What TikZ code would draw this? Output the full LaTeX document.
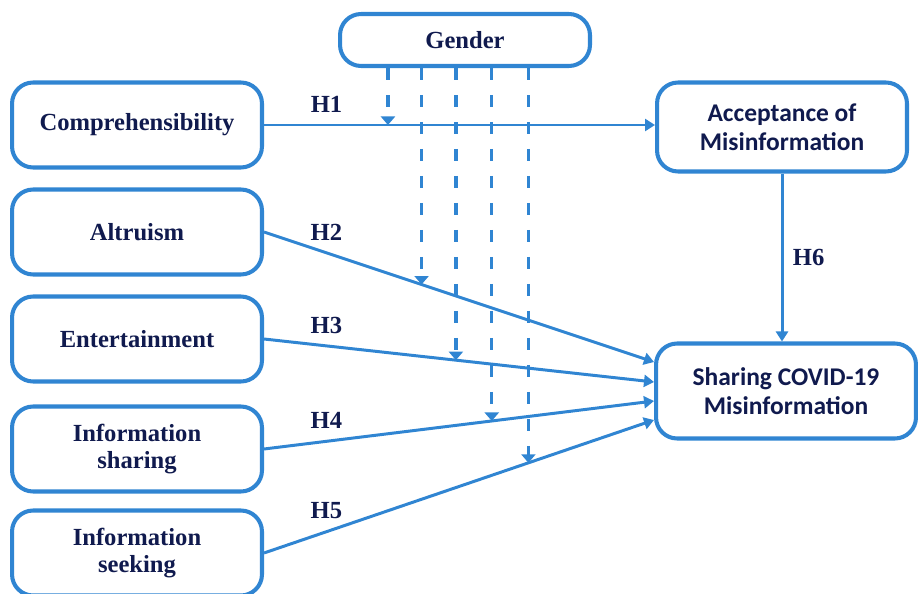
\documentclass[tikz,border=0pt]{standalone}
\usepackage{fontspec}
\setmainfont{Liberation Serif}
\newfontfamily\calibri{Carlito}
\usepackage{tikz}
\usetikzlibrary{positioning,calc,arrows.meta}
\definecolor{modelblue}{RGB}{48,133,210}
\definecolor{modelnavy}{RGB}{16,26,78}
\tikzset{
  construct/.style={draw=modelblue,line width=2.3pt,rounded corners=12pt,fill=white,
    minimum width=5cm,minimum height=1.7cm,align=center,text=modelnavy,
    font=\fontsize{14}{15}\selectfont\bfseries},
  outcome/.style={construct,font=\calibri\fontsize{14.5}{16.5}\selectfont\bfseries},
  hyppath/.style={draw=modelblue,line width=1.7pt,-{Triangle[width=0.24cm,length=0.2cm]}},
  moderation/.style={draw=modelblue,line width=1.9pt,dash pattern=on 0.24cm off 0.3cm,
    -{Triangle[width=0.28cm,length=0.17cm]}},
  hyp/.style={font=\fontsize{14}{15}\selectfont\bfseries,text=modelnavy}
}

\begin{document}
\begin{tikzpicture}[x=0.02cm,y=-0.02cm]
  \useasboundingbox (0,0) rectangle (918,594);
  \node[construct,minimum height=1.04cm] (gender) at (465,40) {Gender};
  \foreach \name/\txt/\ypos in {
    comp/Comprehensibility/125,
    alt/Altruism/232,
    ent/Entertainment/339,
    infshare/Information\\sharing/449,
    infseek/Information\\seeking/553}{
    \node[construct] (\name) at (137,\ypos) {\txt};
  }
  \node[outcome,minimum height=1.78cm] (accept) at (782,127) {Acceptance of\\Misinformation};
  \node[outcome,minimum width=5.2cm,minimum height=1.9cm] (share) at (786,391) {Sharing COVID-19\\Misinformation};

  \draw[hyppath] (comp.east) -- (comp.east -| accept.west)
    coordinate[pos=0.317] (mod1) node[hyp,pos=0.16,above=3pt] {H1};
  \foreach \src/\dy/\p/\k/\lab in {
    alt/0.58/0.404/2/H2,
    ent/0.18/0.492/3/H3,
    infshare/-0.2/0.584/4/H4,
    infseek/-0.58/0.678/5/H5}{
    \draw[hyppath] (\src.east) -- ([yshift=\dy cm]share.west)
      coordinate[pos=\p] (mod\k) node[hyp,pos=0.16,above=3pt] {\lab};
  }
  \draw[hyppath] (accept.south) -- (accept.south |- share.north)
    node[hyp,midway,right=2pt] {H6};

  \foreach \k in {1,...,5}
    \draw[moderation] (gender.south -| mod\k) -- (mod\k);
\end{tikzpicture}
\end{document}
